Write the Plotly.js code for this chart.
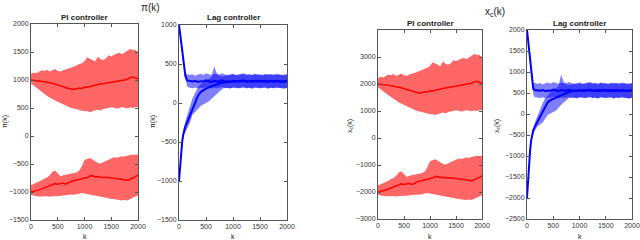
<!DOCTYPE html>
<html>
<head>
<meta charset="utf-8">
<script src="https://cdn.plot.ly/plotly-3.0.1.min.js"></script>
<style>html,body{margin:0;padding:0;background:#fff;}#chart{width:640px;height:240px;}</style>
</head>
<body>
<div id="chart"></div>
<script>
// ---------- data ----------
const kPI = [0,50,100,150,200,250,300,350,400,450,500,550,600,650,700,750,800,850,900,950,1000,1050,1100,1150,1200,1250,1300,1350,1400,1450,1500,1550,1600,1650,1700,1750,1800,1850,1900,1950,2000];
const kLag = [0,20,40,60,80,100,120,150,200,250,300,350,400,450,500,550,600,650,700,750,800,850,900,950,1000,1050,1100,1150,1200,1250,1300,1350,1400,1450,1500,1550,1600,1650,1700,1750,1800,1850,1900,1950,2000];

// pi(k), PI controller
const piPI_hiMean = [1000,995,985,990,975,968,960,952,945,930,912,900,882,862,850,838,830,842,858,850,875,872,888,898,908,918,925,935,945,952,960,968,978,985,990,1000,1012,1040,1052,1032,1020];
const piPI_hiUp = [1110,1135,1120,1150,1175,1160,1185,1150,1170,1195,1160,1150,1175,1185,1205,1220,1235,1260,1285,1300,1335,1405,1380,1350,1330,1420,1370,1355,1385,1440,1420,1450,1470,1485,1460,1495,1520,1555,1540,1535,1500];
const piPI_hiLo = [940,905,870,830,790,750,715,690,660,635,612,590,560,545,520,500,490,480,470,455,440,445,425,435,460,470,455,480,490,500,520,505,490,500,520,505,495,510,500,515,520];
const piPI_loMean = [-1000,-990,-975,-962,-945,-925,-905,-885,-870,-850,-862,-848,-840,-862,-832,-812,-800,-790,-782,-770,-760,-742,-715,-712,-730,-725,-735,-742,-735,-745,-752,-756,-762,-768,-772,-782,-790,-776,-752,-722,-700];
const piPI_loUp = [-880,-860,-840,-810,-790,-760,-740,-700,-640,-615,-660,-720,-700,-690,-680,-670,-660,-650,-620,-540,-430,-410,-395,-420,-450,-480,-490,-470,-440,-420,-400,-380,-390,-370,-360,-365,-350,-340,-335,-330,-330];
const piPI_loLo = [-1050,-1065,-1075,-1080,-1085,-1080,-1075,-1085,-1080,-1070,-1075,-1065,-1070,-1060,-1050,-1045,-1050,-1040,-1030,-1020,-1020,-1030,-1040,-1050,-1065,-1080,-1085,-1090,-1100,-1110,-1120,-1135,-1140,-1145,-1150,-1140,-1150,-1130,-1110,-1080,-1060];

// pi(k), Lag controller
const piLag_hiMean = [1000,890,775,665,555,440,340,290,280,275,285,270,280,275,290,280,270,285,275,280,290,275,280,270,285,280,275,280,290,275,280,270,285,280,275,280,285,270,280,275,285,280,275,270,280];
const piLag_hiUp = [1000,910,800,690,580,470,380,370,360,370,350,365,375,360,380,370,360,375,365,370,380,365,360,370,375,360,365,370,380,365,370,360,375,370,365,360,375,360,370,365,375,370,360,365,370];
const piLag_hiLo = [990,870,740,610,490,380,290,210,195,190,200,185,195,190,205,195,185,200,190,195,205,190,195,185,200,195,190,195,205,190,195,185,200,195,190,195,200,185,195,190,200,195,190,185,195];
const piLag_loMean = [-1000,-790,-620,-490,-400,-340,-295,-250,-160,-70,20,90,140,165,185,200,215,230,240,250,260,265,270,275,280,275,280,285,280,275,280,285,275,280,285,280,275,280,285,275,280,280,275,280,285];
const piLag_loUp = [-985,-760,-580,-450,-350,-280,-230,-160,-40,60,130,200,240,265,290,310,330,470,380,350,340,350,360,355,365,360,355,365,370,360,365,355,370,360,365,355,360,370,365,355,360,365,360,355,365];
const piLag_loLo = [-1015,-820,-660,-530,-450,-400,-360,-330,-260,-150,-110,-80,-40,-20,0,20,50,80,110,145,180,195,195,190,200,195,190,195,200,190,195,185,200,195,190,195,200,185,195,190,200,195,190,185,195];

// x_c(k), PI controller
const xcPI_hiMean = [2000,1990,1975,1985,1955,1940,1920,1905,1890,1860,1825,1800,1765,1725,1700,1675,1660,1685,1715,1700,1750,1745,1775,1795,1815,1835,1850,1870,1890,1905,1920,1935,1955,1970,1980,2000,2025,2080,2100,2065,2040];
const xcPI_hiUp = [2220,2270,2240,2300,2350,2320,2370,2300,2340,2390,2320,2300,2350,2370,2410,2440,2470,2520,2570,2600,2670,2810,2760,2700,2660,2840,2740,2710,2770,2880,2840,2900,2940,2970,2920,2990,3040,3110,3080,3070,3000];
const xcPI_hiLo = [1880,1810,1740,1660,1580,1500,1430,1380,1320,1270,1225,1180,1120,1090,1040,1000,980,960,940,910,880,890,850,870,920,940,910,960,980,1000,1040,1010,980,1000,1040,1010,990,1020,1000,1030,1040];
const xcPI_loMean = [-2000,-1980,-1950,-1925,-1890,-1850,-1810,-1770,-1740,-1700,-1725,-1695,-1680,-1725,-1665,-1625,-1600,-1580,-1565,-1540,-1520,-1485,-1430,-1425,-1460,-1450,-1470,-1485,-1470,-1490,-1505,-1510,-1525,-1535,-1545,-1565,-1580,-1550,-1505,-1445,-1400];
const xcPI_loUp = [-1760,-1720,-1680,-1620,-1580,-1520,-1480,-1400,-1280,-1230,-1320,-1440,-1400,-1380,-1360,-1340,-1320,-1300,-1240,-1080,-860,-820,-790,-840,-900,-960,-980,-940,-880,-840,-800,-760,-780,-740,-720,-730,-700,-680,-670,-660,-660];
const xcPI_loLo = [-2100,-2130,-2150,-2160,-2170,-2160,-2150,-2170,-2160,-2140,-2150,-2130,-2140,-2120,-2100,-2090,-2100,-2080,-2060,-2040,-2040,-2060,-2080,-2100,-2130,-2160,-2170,-2180,-2200,-2220,-2240,-2270,-2280,-2290,-2300,-2280,-2300,-2260,-2220,-2160,-2120];

// x_c(k), Lag controller
const xcLag_hiMean = [2000,1740,1480,1220,960,720,600,570,565,555,570,545,560,555,580,565,545,570,555,560,580,555,560,545,570,560,555,560,580,555,560,545,570,560,555,560,570,545,560,555,570,560,555,545,560];
const xcLag_hiUp = [2000,1780,1530,1290,1050,810,740,740,720,740,700,730,750,720,760,740,720,750,730,740,760,730,720,740,750,720,730,740,760,730,740,720,750,740,730,720,750,720,740,730,750,740,720,730,740];
const xcLag_hiLo = [1980,1700,1420,1150,880,620,460,400,390,380,400,370,390,380,410,390,370,400,380,390,410,380,390,370,400,390,380,390,410,380,390,370,400,390,380,390,400,370,390,380,400,390,380,370,390];
const xcLag_loMean = [-2000,-1550,-1150,-850,-620,-450,-380,-300,-180,-50,80,190,290,330,360,380,410,440,470,500,530,540,550,560,560,550,560,570,560,550,560,570,550,560,570,560,550,560,570,550,560,560,550,560,570];
const xcLag_loUp = [-1980,-1500,-1080,-780,-560,-400,-320,-200,-40,120,260,380,460,520,580,620,660,940,760,700,690,700,720,710,730,720,710,730,740,720,730,710,740,720,730,710,720,740,730,710,720,730,720,710,730];
const xcLag_loLo = [-2020,-1600,-1220,-920,-700,-540,-470,-400,-300,-250,-200,-100,-20,20,50,80,150,220,280,330,380,390,390,380,400,390,380,390,400,380,390,370,400,390,380,390,400,370,390,380,400,390,380,370,390];

const kTicks = [0,500,1000,1500,2000];
const yTicks1 = [-1500,-1000,-500,0,500,1000,1500,2000];
const yTicks2 = [-1500,-1000,-500,0,500,1000];
const yTicks3 = [-3000,-2000,-1000,0,1000,2000,3000];
const yTicks4 = [-2500,-2000,-1500,-1000,-500,0,500,1000,1500,2000];

// ---------- build ----------
const RED = '#ff0000', RED_F = 'rgba(255,0,0,0.6)';
const BLUE = '#0000ff', BLUE_F = 'rgba(0,0,255,0.5)';

function band(k, up, lo, col, xa, ya) {
  return {x: k.concat(k.slice().reverse()), y: up.concat(lo.slice().reverse()),
    type: 'scatter', mode: 'lines', fill: 'toself', fillcolor: col,
    line: {width: 0, color: col}, hoverinfo: 'skip', showlegend: false, xaxis: xa, yaxis: ya};
}
function line(k, y, col, w, xa, ya) {
  return {x: k, y: y, type: 'scatter', mode: 'lines', line: {color: col, width: w},
    showlegend: false, xaxis: xa, yaxis: ya};
}

const traces = [
  band(kPI, piPI_hiUp, piPI_hiLo, RED_F, 'x', 'y'),
  band(kPI, piPI_loUp, piPI_loLo, RED_F, 'x', 'y'),
  line(kPI, piPI_hiMean, RED, 1.5, 'x', 'y'),
  line(kPI, piPI_loMean, RED, 1.5, 'x', 'y'),
  band(kLag, piLag_hiUp, piLag_hiLo, BLUE_F, 'x2', 'y2'),
  band(kLag, piLag_loUp, piLag_loLo, BLUE_F, 'x2', 'y2'),
  line(kLag, piLag_hiMean, BLUE, 2, 'x2', 'y2'),
  line(kLag, piLag_loMean, BLUE, 2, 'x2', 'y2'),
  band(kPI, xcPI_hiUp, xcPI_hiLo, RED_F, 'x3', 'y3'),
  band(kPI, xcPI_loUp, xcPI_loLo, RED_F, 'x3', 'y3'),
  line(kPI, xcPI_hiMean, RED, 1.5, 'x3', 'y3'),
  line(kPI, xcPI_loMean, RED, 1.5, 'x3', 'y3'),
  band(kLag, xcLag_hiUp, xcLag_hiLo, BLUE_F, 'x4', 'y4'),
  band(kLag, xcLag_loUp, xcLag_loLo, BLUE_F, 'x4', 'y4'),
  line(kLag, xcLag_hiMean, BLUE, 2, 'x4', 'y4'),
  line(kLag, xcLag_loMean, BLUE, 2, 'x4', 'y4')
];

const W = 640, H = 240;
const FONT = 'Liberation Sans, Arial, Helvetica, sans-serif';
function ax(extra) {
  return Object.assign({
    showline: true, mirror: 'ticks', linecolor: '#555', linewidth: 1,
    ticks: 'inside', ticklen: 3, tickcolor: '#555', tickwidth: 1,
    showgrid: false, zeroline: false, fixedrange: true,
    tickfont: {family: FONT, size: 7, color: '#333'}
  }, extra);
}
function xd(a, b) { return [a / W, b / W]; }
function yd(top, bot) { return [1 - bot / H, 1 - top / H]; }

const layout = {
  width: W, height: H, margin: {l: 0, r: 0, t: 0, b: 0},
  paper_bgcolor: '#fff', plot_bgcolor: '#fff', showlegend: false,
  font: {family: FONT, color: '#222'},
  xaxis:  ax({domain: xd(31, 138), range: [0, 2000], tickvals: kTicks, anchor: 'y'}),
  yaxis:  ax({domain: yd(24, 220), range: [-1500, 2000], tickvals: yTicks1, anchor: 'x'}),
  xaxis2: ax({domain: xd(179, 287), range: [0, 2000], tickvals: kTicks, anchor: 'y2'}),
  yaxis2: ax({domain: yd(25, 220), range: [-1500, 1000], tickvals: yTicks2, anchor: 'x2'}),
  xaxis3: ax({domain: xd(378, 482), range: [0, 2000], tickvals: kTicks, anchor: 'y3'}),
  yaxis3: ax({domain: yd(30, 219), range: [-3000, 4000], tickvals: yTicks3, anchor: 'x3'}),
  xaxis4: ax({domain: xd(527, 632), range: [0, 2000], tickvals: kTicks, anchor: 'y4'}),
  yaxis4: ax({domain: yd(30, 219), range: [-2500, 2000], tickvals: yTicks4, anchor: 'x4'}),
  annotations: []
};

function ann(text, xpx, ypx, size, opts) {
  layout.annotations.push(Object.assign({
    text: text, xref: 'paper', yref: 'paper', x: xpx / W, y: 1 - ypx / H,
    xanchor: 'center', yanchor: 'middle', showarrow: false,
    font: {family: FONT, size: size, color: '#222'}
  }, opts || {}));
}
ann('π(k)', 150, 7, 10);
ann('x<sub>c</sub>(k)', 495, 12, 10);
ann('<b>PI controller</b>', 84.5, 18, 8);
ann('<b>Lag controller</b>', 233, 18, 8);
ann('<b>PI controller</b>', 430, 24, 8);
ann('<b>Lag controller</b>', 579.5, 24, 8);
ann('π(k)', 5, 122, 7, {textangle: -90});
ann('π(k)', 153, 122, 7, {textangle: -90});
ann('x<sub>c</sub>(k)', 350, 126, 7, {textangle: -90});
ann('x<sub>c</sub>(k)', 497, 126, 7, {textangle: -90});
ann('k', 84.5, 236, 7);
ann('k', 233, 236, 7);
ann('k', 430, 236, 7);
ann('k', 579.5, 236, 7);

Plotly.newPlot('chart', traces, layout, {staticPlot: true, displayModeBar: false});
</script>
</body>
</html>
